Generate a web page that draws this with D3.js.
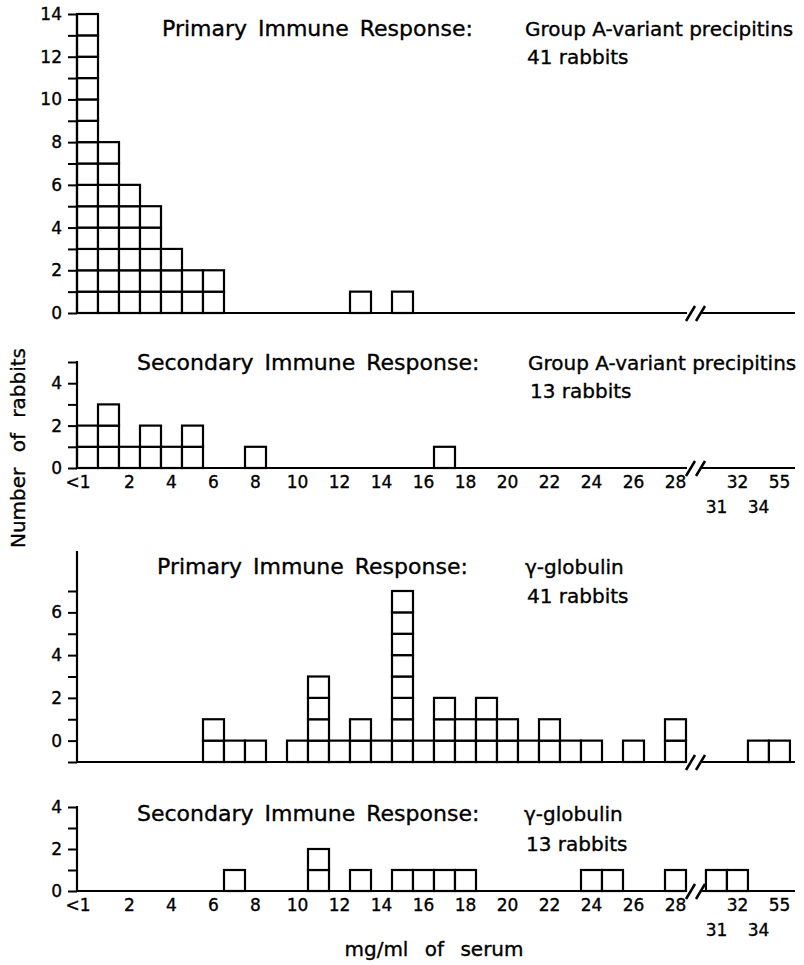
<!DOCTYPE html>
<html>
<head>
<meta charset="utf-8">
<script src="https://cdn.jsdelivr.net/npm/d3@7"></script>
<style>
  body { margin: 0; background: #fff; }
  svg { display: block; }
  text { font-family: "DejaVu Sans", sans-serif; fill: #000; stroke: #000; stroke-width: 0.35px; }
</style>
</head>
<body>
<svg id="chart" width="804" height="965"></svg>
<script>
// ---------------- DATA ----------------
const categories = ["<1","1","2","3","4","5","6","7","8","9","10","11","12","13","14",
  "15","16","17","18","19","20","21","22","23","24","25","26","27","28","31","32","34","55"];

// Group A-variant precipitins, primary response (41 rabbits)
const primaryPrecipitins   = [14,8,6,5,3,2,2,0,0,0,0,0,0,1,0,1,0,0,0,0,0,0,0,0,0,0,0,0,0,0,0,0,0];
// Group A-variant precipitins, secondary response (13 rabbits)
const secondaryPrecipitins = [2,3,1,2,1,2,0,0,1,0,0,0,0,0,0,0,0,1,0,0,0,0,0,0,0,0,0,0,0,0,0,0,0];
// gamma-globulin, primary response (41 rabbits)
const primaryGlobulin      = [0,0,0,0,0,0,2,1,1,0,1,4,1,2,1,8,1,3,2,3,2,1,2,1,1,0,1,0,2,0,0,1,1];
// gamma-globulin, secondary response (13 rabbits)
const secondaryGlobulin    = [0,0,0,0,0,0,0,1,0,0,0,2,0,1,0,1,1,1,1,0,0,0,0,0,1,1,0,0,1,1,1,0,0];

const xTickLabelsRow1 = ["<1","2","4","6","8","10","12","14","16","18","20","22","24","26","28","32","55"];
const xTickLabelsRow2 = ["31","34"];

const yTicksPrimaryA   = [0,1,2,3,4,5,6,7,8,9,10,11,12,13,14];
const yTicksSecondaryA = [0,1,2,3,4,5];
const yTicksPrimaryG   = [-1,0,1,2,3,4,5,6,7];
const yTicksSecondaryG = [0,1,2,3,4];
const yLabelsShown     = [0,2,4,6,8,10,12,14];

// ---------------- LAYOUT ----------------
const svg = d3.select("#chart");
const AX = 77;          // y-axis x position
const BW = 21;          // bin width
const BREAK_GAP = 0.95; // gap (in bins) at the axis break

function pos(i) { return i <= 28 ? i : i + BREAK_GAP; }
const x = d3.scaleLinear().domain([0, 1]).range([AX, AX + BW]);
const breakStart = x(29) + 3;

const panels = [
  { data: primaryPrecipitins, domain: [0, 14], range: [313, 14], axisTop: 14, ticks: yTicksPrimaryA,
    title: "Primary Immune Response:", tx: 162, ty: 36, sub1: "Group A-variant precipitins", sub2: "41 rabbits",
    sx: 525, s2y: 64, labels: false },
  { data: secondaryPrecipitins, domain: [0, 5], range: [468, 362], axisTop: 362, ticks: yTicksSecondaryA,
    title: "Secondary Immune Response:", tx: 137, ty: 370, sub1: "Group A-variant precipitins", sub2: "13 rabbits",
    sx: 528, s2y: 398, labels: true },
  { data: primaryGlobulin, domain: [-1, 7], range: [762, 591], axisTop: 552, ticks: yTicksPrimaryG,
    title: "Primary Immune Response:", tx: 157, ty: 574, sub1: "\u03b3-globulin", sub2: "41 rabbits",
    sx: 525, s2y: 603, labels: false },
  { data: secondaryGlobulin, domain: [0, 4], range: [891, 807], axisTop: 807, ticks: yTicksSecondaryG,
    title: "Secondary Immune Response:", tx: 137, ty: 821, sub1: "\u03b3-globulin", sub2: "13 rabbits",
    sx: 524, s2y: 851, labels: true }
];

panels.forEach(p => {
  const y = d3.scaleLinear().domain(p.domain).range(p.range);
  const base = y(p.domain[0]);
  const g = svg.append("g");

  // boxes (one square per rabbit)
  const boxes = [];
  p.data.forEach((n, i) => {
    for (let k = 0; k < n; k++) boxes.push({ i, k });
  });
  g.selectAll("rect.box").data(boxes).join("rect")
    .attr("class", "box")
    .attr("x", d => x(pos(d.i)))
    .attr("width", BW)
    .attr("y", d => y(p.domain[0] + d.k + 1))
    .attr("height", d => y(p.domain[0] + d.k) - y(p.domain[0] + d.k + 1))
    .attr("fill", "#fff").attr("stroke", "#000").attr("stroke-width", 2.2);

  // y axis
  const axis = d3.axisLeft(y).tickValues(p.ticks).tickSize(9).tickPadding(6)
    .tickFormat(v => yLabelsShown.includes(v) ? String(v) : "");
  const ag = g.append("g").attr("transform", `translate(${AX},0)`).call(axis);
  ag.select(".domain").remove();
  ag.selectAll(".tick line").attr("stroke", "#000").attr("stroke-width", 2);
  ag.selectAll(".tick text").style("font-size", "17px").style("font-family", "DejaVu Sans, sans-serif");
  g.append("line").attr("x1", AX).attr("x2", AX).attr("y1", p.axisTop - 1).attr("y2", base + 1)
    .attr("stroke", "#000").attr("stroke-width", 2.2);

  // baseline with break
  g.append("line").attr("x1", AX).attr("x2", breakStart - 2).attr("y1", base).attr("y2", base)
    .attr("stroke", "#000").attr("stroke-width", 2.2);
  g.append("line").attr("x1", breakStart + 13).attr("x2", 795).attr("y1", base).attr("y2", base)
    .attr("stroke", "#000").attr("stroke-width", 2.2);
  [breakStart + 2, breakStart + 12].forEach(cx => {
    g.append("line").attr("x1", cx - 5).attr("x2", cx + 4).attr("y1", base + 8).attr("y2", base - 7)
      .attr("stroke", "#000").attr("stroke-width", 2.5);
  });

  // x labels
  if (p.labels) {
    const idx = c => categories.indexOf(c);
    const lx = c => c === "<1" ? x(pos(idx(c))) + 1 : x(pos(idx(c)) + 0.5);
    g.selectAll("text.xl1").data(xTickLabelsRow1).join("text")
      .attr("class", "xl1")
      .attr("x", c => lx(c)).attr("y", base + 20)
      .attr("text-anchor", "middle").style("font-size", "17px").text(d => d);
    g.selectAll("text.xl2").data(xTickLabelsRow2).join("text")
      .attr("class", "xl2")
      .attr("x", c => lx(c)).attr("y", base + 45)
      .attr("text-anchor", "middle").style("font-size", "17px").text(d => d);
  }

  // titles
  g.append("text").attr("x", p.tx).attr("y", p.ty).style("font-size", "22px")
    .style("word-spacing", "4px").text(p.title);
  g.append("text").attr("x", p.sx).attr("y", p.ty).style("font-size", "20px").text(p.sub1);
  g.append("text").attr("x", p.sx + 2).attr("y", p.s2y).style("font-size", "20px").text(p.sub2);
});

// axis titles
svg.append("text").attr("transform", "translate(25,448) rotate(-90)")
  .attr("text-anchor", "middle").style("font-size", "20px").style("word-spacing", "9px")
  .text("Number of rabbits");
svg.append("text").attr("x", 434).attr("y", 956)
  .attr("text-anchor", "middle").style("font-size", "20px").style("word-spacing", "10px")
  .text("mg/ml of serum");
</script>
</body>
</html>
